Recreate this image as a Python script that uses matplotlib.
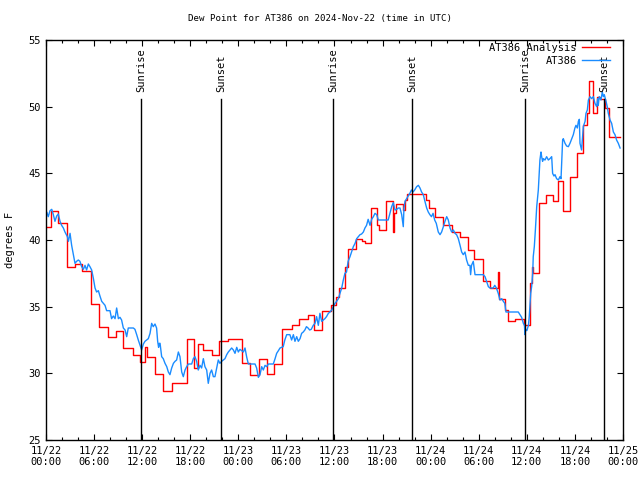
import numpy as np
import matplotlib
matplotlib.use("Agg")
import matplotlib.pyplot as plt
import matplotlib.dates as mdates
import matplotlib.transforms as mtransforms

########################################################
# Données (heures depuis 2024-11-22 00:00 UTC)
########################################################
debut = np.datetime64("2024-11-22T00:00")

# Observations AT386
obs_h = [0.0, 0.08, 0.29, 0.5, 0.71, 0.92, 1.12, 1.33, 1.54, 1.75, 1.95, 2.16, 2.37, 2.66, 2.8,
         3.0, 3.2, 3.41, 3.62, 3.82, 4.03, 4.24, 4.45, 4.66, 4.87, 5.07, 5.28, 5.49, 5.7, 5.91,
         6.11, 6.32, 6.53, 6.74, 6.95, 7.15, 7.36, 7.57, 7.99, 8.19, 8.4, 8.61, 8.82, 9.03, 9.24,
         9.44, 9.65, 9.86, 10.07, 10.27, 10.9, 11.1, 11.31, 11.52, 11.73, 11.94, 12.15, 12.35,
         12.56, 12.77, 12.98, 13.18, 13.39, 13.6, 13.8, 13.93, 14.05, 14.14, 14.23, 14.43, 14.64,
         14.85, 15.06, 15.26, 15.47, 15.68, 15.9, 16.1, 16.3, 16.51, 16.72, 16.93, 17.14, 17.35,
         17.55, 17.76, 18.18, 18.39, 18.59, 18.8, 19.0, 19.21, 19.42, 19.63, 19.84, 20.05, 20.25,
         20.46, 20.67, 20.88, 21.09, 21.3, 21.5, 21.7, 21.92, 22.13, 22.34, 22.55, 22.75, 22.96,
         23.17, 23.38, 23.58, 23.8, 24.0, 24.2, 24.42, 24.63, 24.84, 25.05, 25.25, 26.08, 26.29,
         26.5, 26.7, 26.91, 27.12, 27.33, 27.54, 27.75, 28.37, 28.58, 28.79, 29.0, 29.2, 29.6,
         29.8, 30.03, 30.44, 30.65, 30.86, 31.07, 31.28, 31.49, 31.7, 31.9, 32.1, 32.3, 32.5,
         32.7, 32.9, 33.1, 33.35, 33.56, 33.77, 33.98, 34.19, 34.4, 34.6, 34.8, 35.0, 35.23,
         35.44, 35.65, 35.85, 36.06, 36.27, 36.48, 36.68, 36.9, 37.1, 37.3, 37.5, 37.7, 37.93,
         38.14, 38.35, 38.56, 38.76, 38.97, 39.18, 39.39, 39.6, 39.8, 40.0, 40.2, 40.43, 40.64,
         40.85, 41.05, 41.26, 41.47, 42.7, 42.92, 43.13, 43.34, 43.55, 43.76, 43.96, 44.17, 44.38,
         44.58, 44.67, 44.8, 45.0, 45.2, 45.4, 45.6, 45.8, 46.0, 46.25, 46.46, 46.67, 46.87,
         47.08, 47.29, 47.5, 47.7, 47.9, 48.1, 48.3, 48.5, 48.7, 48.95, 49.16, 49.37, 49.58,
         49.79, 50.0, 50.2, 50.41, 50.62, 50.83, 51.04, 51.24, 51.45, 51.66, 51.87, 52.07, 52.28,
         52.49, 52.7, 52.9, 52.99, 53.1, 53.32, 53.53, 54.57, 54.78, 54.99, 55.2, 55.4, 55.8,
         56.0, 56.2, 56.44, 56.65, 56.86, 57.07, 57.25, 57.4, 58.94, 59.35, 59.56, 59.7, 59.77,
         59.85, 60.0, 60.2, 60.3, 60.48, 60.6, 60.73, 60.8, 60.93, 61.06, 61.23, 61.43, 61.64,
         61.77, 61.85, 61.97, 62.06, 62.27, 62.47, 62.68, 62.89, 63.1, 63.22, 63.39, 63.52,
         63.72, 63.93, 64.14, 64.27, 64.47, 64.55, 64.76, 64.97, 65.18, 65.39, 65.6, 65.8, 66.0,
         66.13, 66.3, 66.43, 66.55, 66.63, 66.84, 67.05, 67.26, 67.38, 67.55, 67.68, 67.88,
         68.09, 68.3, 68.5, 68.71, 68.84, 68.92, 69.04, 69.25, 69.42, 69.55, 69.67, 69.88, 70.04,
         70.17, 70.38, 70.58, 70.8, 71.0, 71.2, 71.42, 71.63]
obs_f = [42.0, 42.1, 41.75, 42.2, 42.3, 41.9, 41.4, 41.8, 41.95, 41.4, 41.1, 40.9, 40.6, 40.25, 39.9,
         40.5, 39.6, 38.9, 38.25, 38.4, 38.5, 38.4, 38.0, 37.8, 38.1, 37.75, 38.2, 38.0, 37.75, 37.1,
         36.4, 36.1, 36.2, 35.8, 35.4, 35.25, 35.1, 34.7, 34.7, 34.1, 34.3, 34.1, 34.9, 34.1, 34.2,
         34.0, 33.4, 33.25, 32.75, 33.4, 33.4, 33.3, 32.9, 32.5, 32.1, 31.75, 32.2, 32.4,
         32.5, 32.6, 33.0, 33.75, 33.5, 33.7, 33.4, 32.4, 31.95, 32.25, 32.25, 31.25, 31.1,
         30.75, 30.5, 30.1, 29.9, 30.4, 30.75, 30.9, 31.0, 31.6, 31.25, 30.1, 29.75, 30.25,
         30.5, 30.7, 30.7, 31.1, 31.25, 30.9, 30.25, 30.6, 30.4, 31.1, 30.5, 30.25, 29.25,
         30.0, 30.25, 29.75, 29.75, 30.4, 31.0, 30.75, 30.9, 31.0, 31.1, 31.4, 31.6, 31.75,
         31.9, 31.75, 31.5, 31.95, 31.6, 31.8, 31.7, 31.6, 31.9, 31.2, 30.7, 30.7, 30.4,
         29.7, 29.9, 30.5, 30.25, 30.6, 30.5, 30.7, 30.7, 31.1, 31.5, 31.7, 31.9, 32.0,
         32.5, 32.9, 32.9, 32.5, 32.9, 32.4, 32.75, 32.4, 32.6, 33.0, 33.1, 33.25, 33.5,
         33.4, 33.25, 33.3, 33.6, 33.75, 34.25, 33.6, 34.5, 33.9, 34.0, 34.1, 34.25, 34.5,
         34.6, 34.75, 35.0, 35.25, 35.4, 35.6, 36.0, 36.4, 37.0, 37.5, 37.6, 38.4, 38.75,
         39.1, 39.5, 39.75, 40.1, 40.25, 40.4, 40.45, 40.6, 40.9, 41.1, 41.55, 41.1, 41.55,
         41.75, 42.0, 41.9, 41.5, 41.5, 42.0, 42.5, 42.8, 42.25, 42.3, 42.4, 42.4, 41.9,
         41.0, 42.4, 42.9, 43.1, 43.3, 43.5, 43.75, 43.6, 43.75, 44.0, 44.1, 43.9, 43.6,
         43.4, 42.9, 42.4, 42.1, 41.9, 41.75, 42.0, 41.5, 41.25, 40.6, 40.4, 40.6, 41.0,
         41.4, 41.75, 41.5, 40.9, 40.6, 40.75, 40.5, 40.4, 40.1, 39.6, 39.1, 38.9, 39.1,
         38.5, 38.1, 38.1, 37.4, 38.1, 38.4, 37.4, 37.4, 37.25, 36.9, 36.5, 36.4, 36.4,
         36.6, 36.4, 36.0, 35.5, 35.6, 35.4, 35.25, 34.6, 34.6, 34.2, 33.75, 33.6, 32.9,
         33.3, 33.2, 33.6, 34.25, 36.0, 36.5, 37.5, 38.75, 39.5, 40.75, 42.5, 43.75, 46.0,
         46.6, 46.25, 45.9, 46.1, 46.0, 46.25, 46.0, 46.1, 46.25, 45.0, 44.8, 44.9,
         44.6, 44.5, 44.75, 44.6, 47.5, 47.6, 47.25, 47.05, 47.0, 47.25, 47.6, 47.9, 48.4,
         48.6, 48.4, 48.9, 49.05, 47.25, 46.75, 48.5, 48.9, 49.5, 49.75, 50.5, 50.75,
         50.6, 50.75, 50.25, 50.0, 50.6, 50.1, 50.75, 50.5, 51.1, 50.75, 50.9, 50.4, 50.0,
         49.5, 49.0, 48.75, 48.1, 47.9, 47.5, 47.25, 46.9]

# Analyse AT386 (valeur constante à partir de chaque instant)
ana_h = [0.0, 0.6, 1.5, 2.6, 3.6, 4.5, 5.6, 6.6, 7.7, 8.7, 9.6, 10.8, 11.7, 12.35, 12.55, 13.6,
         14.6, 15.7, 17.55, 18.5, 19.0, 19.6, 20.7, 21.6, 22.7, 24.5, 25.5, 26.6, 27.6, 28.5,
         29.5, 30.7, 31.6, 32.7, 33.5, 34.5, 35.6, 36.2, 36.6, 37.3, 37.7, 38.7, 39.4, 39.8,
         40.6, 41.3, 41.6, 42.4, 43.3, 43.45, 43.7, 44.6, 44.75, 45.1, 47.4, 47.8, 48.5, 49.5,
         50.6, 51.6, 52.6, 53.4, 54.5, 55.4, 56.4, 56.55, 57.3, 57.6, 58.5, 59.6, 60.35, 60.6,
         60.8, 61.5, 62.4, 63.3, 63.95, 64.5, 65.35, 66.25, 67.05, 67.45, 67.8, 68.25, 68.8,
         69.1, 69.8, 70.3, 71.6]
ana_f = [41.0, 42.2, 41.3, 38.0, 38.2, 37.7, 35.2, 33.45, 32.75, 33.2, 31.9, 31.4, 30.85, 32.0,
         31.25, 29.95, 28.67, 29.3, 32.55, 30.4, 32.2, 31.75, 31.4, 32.4, 32.6, 30.8, 29.9,
         31.1, 29.95, 30.7, 33.3, 33.6, 34.05, 34.4, 33.25, 34.7, 35.1, 35.75, 36.4, 37.95,
         39.3, 40.1, 39.9, 39.8, 42.4, 41.1, 40.75, 42.9, 40.6, 42.0, 42.7, 42.25, 43.0, 43.45,
         43.0, 42.4, 41.7, 41.1, 40.6, 40.25, 39.25, 38.55, 36.9, 36.4, 37.6, 35.6, 34.75,
         33.9, 34.1, 33.6, 36.75, 38.0, 37.5, 42.75, 43.4, 42.9, 44.4, 42.2, 44.75, 46.5,
         48.6, 49.5, 51.9, 49.5, 50.75, 50.55, 49.9, 47.75, 47.75]

# Lever / coucher du soleil (UTC)
soleil_heures = ["2024-11-22T11:51", "2024-11-22T21:50", "2024-11-23T11:51",
                 "2024-11-23T21:43", "2024-11-24T11:47", "2024-11-24T21:40"]
soleil_noms = ["Sunrise", "Sunset", "Sunrise", "Sunset", "Sunrise", "Sunset"]


def en_dates(heures):
    minutes = np.round(np.array(heures) * 60).astype(int)
    return debut + minutes.astype("timedelta64[m]")


########################################################
# Affichage
########################################################
plt.rcParams["font.family"] = "DejaVu Sans Mono"
plt.rcParams["font.size"] = 7.5

fig = plt.figure(figsize=(6.4, 4.8), dpi=100)
ax = fig.add_axes([46 / 640, 40 / 480, 577 / 640, 400 / 480])

ax.plot(en_dates(ana_h), ana_f, drawstyle="steps-post", color="#ff0000", lw=1.0,
        label="AT386 Analysis")
ax.plot(en_dates(obs_h), obs_f, color="#1a8cff", lw=1.0, label="AT386")

# Lignes verticales lever / coucher
trans = mtransforms.blended_transform_factory(ax.transData, ax.transAxes)
for t, nom in zip(soleil_heures, soleil_noms):
    d = np.datetime64(t)
    ax.plot([d, d], [0, 0.852], color="black", lw=1.0, transform=trans)
    ax.text(d, 0.87, nom, rotation=90, ha="center", va="bottom", transform=trans)

ax.set_xlim(debut, debut + np.timedelta64(72, "h"))
ax.set_ylim(25, 55)
ax.set_yticks(np.arange(25, 56, 5))

ax.xaxis.set_major_locator(mdates.HourLocator(byhour=[0, 6, 12, 18]))
ax.xaxis.set_minor_locator(mdates.HourLocator(byhour=range(0, 24, 2)))
ax.xaxis.set_major_formatter(mdates.DateFormatter("%m/%d\n%H:%M"))

ax.tick_params(which="both", direction="in", top=True, right=True, width=0.8, pad=4)
ax.tick_params(which="major", length=4)
ax.tick_params(which="minor", length=2)
for s in ax.spines.values():
    s.set_linewidth(1.0)

fig.text(0.5, 1 - 19 / 480, "Dew Point for AT386 on 2024-Nov-22 (time in UTC)",
         ha="center", va="center", fontsize=6.6)
fig.text(10 / 640, 0.5, "degrees F", rotation=90, ha="center", va="center")

ax.legend(loc="upper right", bbox_to_anchor=(610 / 640, 1 - 43 / 480),
          bbox_transform=fig.transFigure, frameon=False, markerfirst=False,
          handlelength=2.7, handletextpad=0.5, labelspacing=0.25,
          borderpad=0, borderaxespad=0)

fig.savefig("out.png", dpi=100)
